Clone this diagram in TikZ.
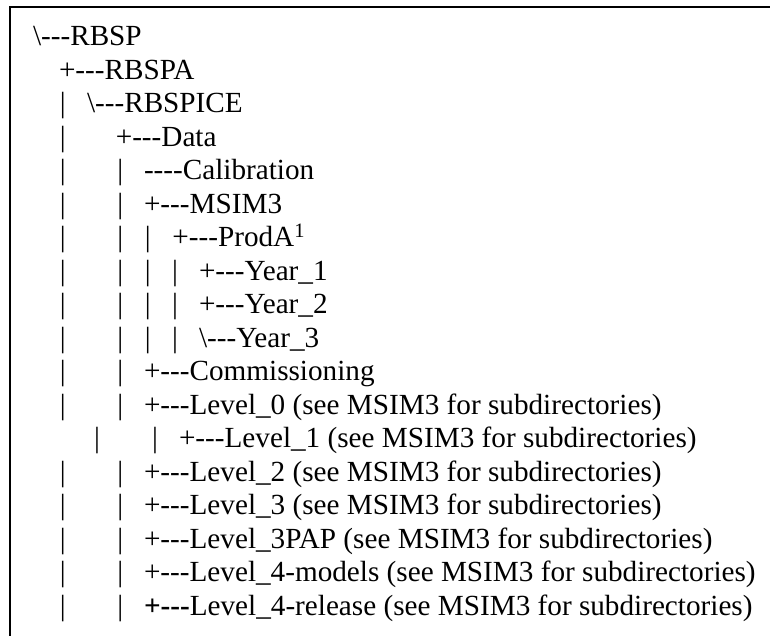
\documentclass[tikz,border=0pt]{standalone}
\usepackage{fontspec}
\setmainfont{Liberation Serif}[Ligatures=TeXOff]
\begin{document}
\begin{tikzpicture}[x=1bp,y=-1bp,
  txt/.style={anchor=base west, inner sep=0pt, outer sep=0pt, font=\fontsize{29.2bp}{34bp}\selectfont},
  frame/.style={line width=2.2bp, black}]
\useasboundingbox (0,0) rectangle (770,636);
\clip (0,0) rectangle (770,636);
\fill[white] (0,0) rectangle (770,636);
\coordinate (fa) at (775,7);
\coordinate (fb) at (9.7,7);
\coordinate (fc) at (9.7,645);
\draw[frame] (fa) -- (fb) -- (fc);
% columns
\def\ca{59.8}\def\cb{117.4}\def\cc{144.8}\def\cd{172.1}
% row 1
\node[txt] (r1) at (33,45.7) {\textbackslash---RBSP};
% row 2
\node[txt] (r2) at (59,79.2) {+---RBSPA};
% row 3
\node[txt] (r3a) at (\ca,112.7) {|};
\node[txt] (r3) at (87,112.7) {\textbackslash---RBSPICE};
% row 4
\node[txt] (r4a) at (\ca,146.2) {|};
\node[txt] (r4) at (115.8,146.2) {+---Data};
% row 5
\node[txt] (r5a) at (\ca,179.7) {|};
\node[txt] (r5b) at (\cb,179.7) {|};
\node[txt] (r5) at (144,179.7) {----Calibration};
% row 6
\node[txt] (r6a) at (\ca,213.2) {|};
\node[txt] (r6b) at (\cb,213.2) {|};
\node[txt] (r6) at (144,213.2) {+---MSIM3};
% row 7
\node[txt] (r7a) at (\ca,246.7) {|};
\node[txt] (r7b) at (\cb,246.7) {|};
\node[txt] (r7c) at (\cc,246.7) {|};
\node[txt] (r7) at (172.4,246.7) {+---ProdA\textsuperscript{1}};
% row 8
\node[txt] (r8a) at (\ca,280.2) {|};
\node[txt] (r8b) at (\cb,280.2) {|};
\node[txt] (r8c) at (\cc,280.2) {|};
\node[txt] (r8d) at (\cd,280.2) {|};
\node[txt] (r8) at (199,280.2) {+---Year\_1};
% row 9
\node[txt] (r9a) at (\ca,313.7) {|};
\node[txt] (r9b) at (\cb,313.7) {|};
\node[txt] (r9c) at (\cc,313.7) {|};
\node[txt] (r9d) at (\cd,313.7) {|};
\node[txt] (r9) at (199,313.7) {+---Year\_2};
% row 10
\node[txt] (r10a) at (\ca,347.2) {|};
\node[txt] (r10b) at (\cb,347.2) {|};
\node[txt] (r10c) at (\cc,347.2) {|};
\node[txt] (r10d) at (\cd,347.2) {|};
\node[txt] (r10) at (199,347.2) {\textbackslash---Year\_3};
% row 11
\node[txt] (r11a) at (\ca,380.7) {|};
\node[txt] (r11b) at (\cb,380.7) {|};
\node[txt] (r11) at (144,380.7) {+---Commissioning};
% row 12
\node[txt] (r12a) at (\ca,414.2) {|};
\node[txt] (r12b) at (\cb,414.2) {|};
\node[txt] (r12) at (144,414.2) {+---Level\_0 (see MSIM3 for subdirectories)};
% row 13
\node[txt] (r13a) at (94.2,447.7) {|};
\node[txt] (r13b) at (152.2,447.7) {|};
\node[txt] (r13) at (179,447.7) {+---Level\_1 (see MSIM3 for subdirectories)};
% row 14
\node[txt] (r14a) at (\ca,481.2) {|};
\node[txt] (r14b) at (\cb,481.2) {|};
\node[txt] (r14) at (144,481.2) {+---Level\_2 (see MSIM3 for subdirectories)};
% row 15
\node[txt] (r15a) at (\ca,514.7) {|};
\node[txt] (r15b) at (\cb,514.7) {|};
\node[txt] (r15) at (144,514.7) {+---Level\_3 (see MSIM3 for subdirectories)};
% row 16
\node[txt] (r16a) at (\ca,548.2) {|};
\node[txt] (r16b) at (\cb,548.2) {|};
\node[txt] (r16) at (144,548.2) {+---Level\_3PAP (see MSIM3 for subdirectories)};
% row 17
\node[txt] (r17a) at (\ca,581.7) {|};
\node[txt] (r17b) at (\cb,581.7) {|};
\node[txt] (r17) at (144,581.7) {+---Level\_4-models (see MSIM3 for subdirectories)};
% row 18
\node[txt] (r18a) at (\ca,615.2) {|};
\node[txt] (r18b) at (\cb,615.2) {|};
\node[txt] (r18) at (144,615.2) {\textbf{+---}Level\_4-release (see MSIM3 for subdirectories)};
\end{tikzpicture}
\end{document}
